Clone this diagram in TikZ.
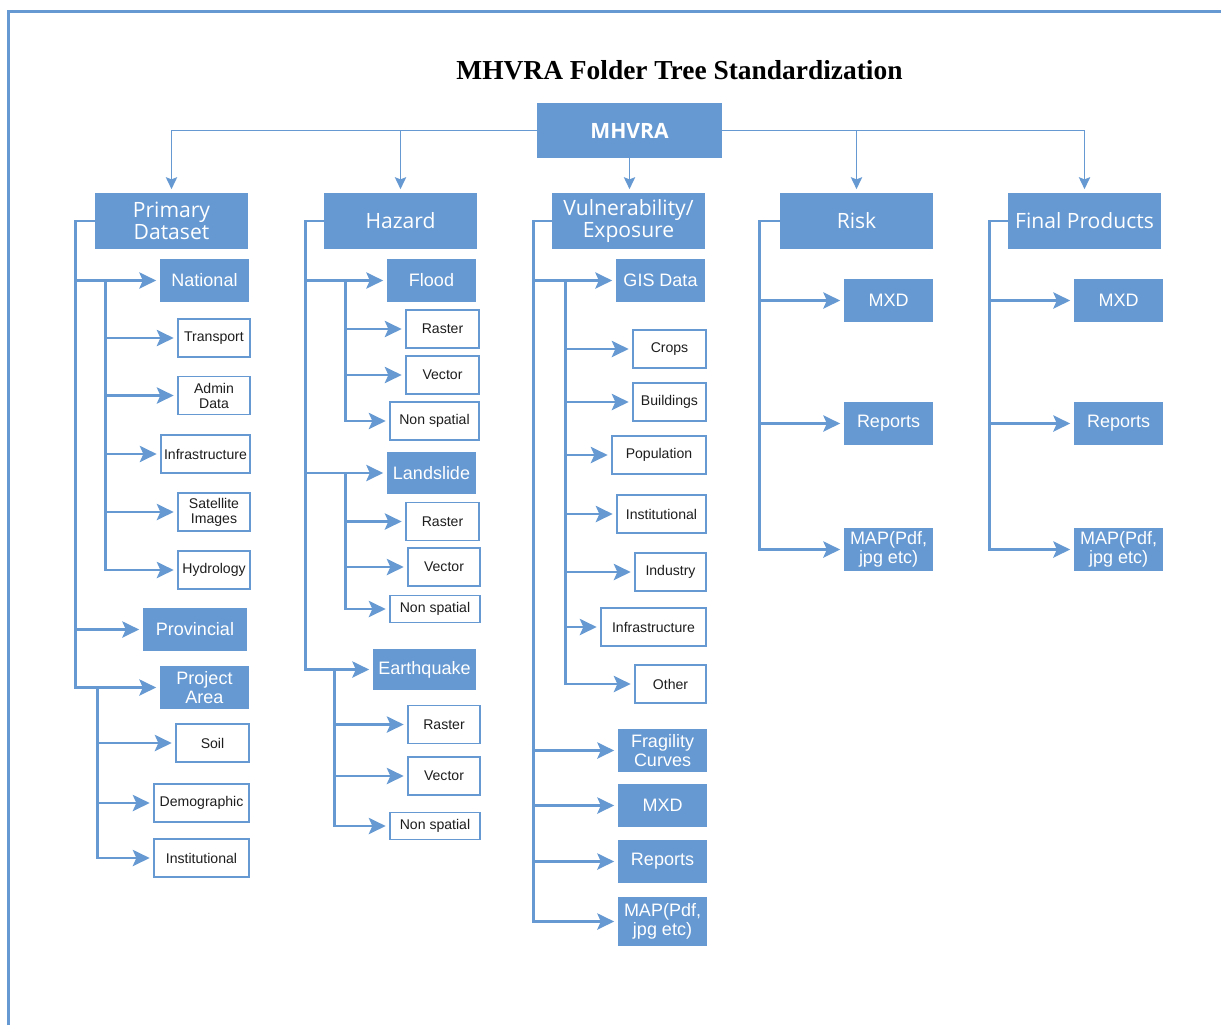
\documentclass[tikz,border=0pt]{standalone}
\usepackage{fontspec}
\usetikzlibrary{arrows.meta}
\newfontfamily\headfont{Open Sans}
\newfontfamily\boxfont{Liberation Sans}
\newfontfamily\titlefont{Liberation Serif}
\definecolor{folderblue}{RGB}{102,153,210}
\definecolor{leaftext}{RGB}{30,30,30}
\tikzset{
  linktip/.tip={Stealth[length=12pt,width=11.5pt,inset=2.5pt]},
  toptip/.tip={Stealth[length=8.5pt,width=8pt,inset=1.5pt]}
}

\begin{document}
\begin{tikzpicture}[x=0.025cm,y=-0.025cm]
        \tikzstyle{every node}=[inner sep=0pt, align=center]
        \tikzstyle{root}=[fill=folderblue, text=white, minimum width=4.625cm, minimum height=1.375cm, font=\headfont\bfseries\fontsize{15}{16}\selectfont]
        \tikzstyle{folder}=[fill=folderblue, text=white, minimum width=3.825cm, minimum height=1.4cm, font=\headfont\fontsize{15}{15.6}\selectfont]
        \tikzstyle{subfolder}=[fill=folderblue, text=white, minimum width=2.225cm, minimum height=1.075cm, font=\boxfont\fontsize{12.8}{13.5}\selectfont]
        \tikzstyle{leaf}=[draw=folderblue, line width=1.1pt, fill=white, text=leaftext, minimum width=1.825cm, minimum height=0.95cm, font=\boxfont\fontsize{10}{10.7}\selectfont]
        \tikzstyle{link}=[draw=folderblue, line width=1.9pt, -linktip, shorten >=2.5pt]
        \tikzstyle{toplink}=[draw=folderblue, line width=1.3pt, -toptip, shorten >=2.5pt]
        \useasboundingbox (0,0) rectangle (1221,1025);
        \draw[folderblue, line width=2pt] (8.5,1025) -- (8.5,11.5) -- (1221,11.5);

        \node[font=\titlefont\bfseries\fontsize{19.5}{21}\selectfont, anchor=base] (title) at (679.5,79) {MHVRA Folder Tree Standardization};

        % root and main folders
        \node[root] (mhvra) at (629.5,130.5) {MHVRA};
        \node[folder] (prim) at (171.5,221) {Primary\\Dataset};
        \node[folder] (haz) at (400.5,221) {Hazard};
        \node[folder] (vul) at (628.5,221) {Vulnerability/\\Exposure};
        \node[folder] (risk) at (856.5,221) {Risk};
        \node[folder] (final) at (1084.5,221) {Final Products};

        % primary dataset
        \node[subfolder] (nat) at (204.5,280.5) {National};
        \node[leaf, minimum width=1.8cm] (trans) at (214,338) {Transport};
        \node[leaf, minimum width=1.8cm] (admin) at (214,395.5) {Admin\\Data};
        \node[leaf, minimum width=2.225cm] (ninfra) at (205.5,454) {Infrastructure};
        \node[leaf, minimum width=1.8cm] (sat) at (214,512) {Satellite\\Images};
        \node[leaf, minimum width=1.8cm] (hydro) at (214,570) {Hydrology};
        \node[subfolder, minimum width=2.6cm] (prov) at (195,629.5) {Provincial};
        \node[subfolder] (proj) at (204.5,687.5) {Project\\Area};
        \node[leaf] (soil) at (212.5,743) {Soil};
        \node[leaf, minimum width=2.375cm] (demo) at (201.5,803) {Demographic};
        \node[leaf, minimum width=2.375cm] (pinst) at (201.5,858) {Institutional};

        % hazard
        \node[subfolder] (flood) at (431.5,280.5) {Flood};
        \node[leaf] (fras) at (442.5,329) {Raster};
        \node[leaf] (fvec) at (442.5,375) {Vector};
        \node[leaf, minimum width=2.225cm] (fnon) at (434.5,421) {Non spatial};
        \node[subfolder, minimum height=1.05cm] (land) at (431.5,473) {Landslide};
        \node[leaf] (lras) at (442.5,521.5) {Raster};
        \node[leaf, minimum width=1.8cm] (lvec) at (444,567) {Vector};
        \node[leaf, minimum width=2.25cm, minimum height=0.675cm] (lnon) at (435,609) {Non spatial};
        \node[subfolder, minimum width=2.575cm, minimum height=1.025cm] (quake) at (424.5,669.5) {Earthquake};
        \node[leaf, minimum width=1.8cm] (qras) at (444,724.5) {Raster};
        \node[leaf, minimum width=1.8cm] (qvec) at (444,776) {Vector};
        \node[leaf, minimum width=2.25cm, minimum height=0.675cm] (qnon) at (435,826) {Non spatial};

        % vulnerability / exposure
        \node[subfolder] (gis) at (660.5,280.5) {GIS Data};
        \node[leaf] (crops) at (669.5,349) {Crops};
        \node[leaf] (build) at (669.5,402) {Buildings};
        \node[leaf, minimum width=2.35cm] (pop) at (659,455) {Population};
        \node[leaf, minimum width=2.225cm] (vinst) at (661.5,514) {Institutional};
        \node[leaf, minimum width=1.775cm] (indus) at (670.5,572) {Industry};
        \node[leaf, minimum width=2.625cm] (vinfra) at (653.5,627) {Infrastructure};
        \node[leaf, minimum width=1.775cm] (other) at (670.5,684) {Other};
        \node[subfolder] (frag) at (662.5,750.5) {Fragility\\Curves};
        \node[subfolder] (vmxd) at (662.5,805.5) {MXD};
        \node[subfolder] (vrep) at (662.5,861.5) {Reports};
        \node[subfolder, minimum height=1.225cm] (vmap) at (662.5,921.5) {MAP(Pdf,\\jpg etc)};

        % risk and final products
        \node[subfolder] (rmxd) at (888.5,300.5) {MXD};
        \node[subfolder] (rrep) at (888.5,423.5) {Reports};
        \node[subfolder] (rmap) at (888.5,549.5) {MAP(Pdf,\\jpg etc)};
        \node[subfolder] (fmxd) at (1118.5,300.5) {MXD};
        \node[subfolder] (frep) at (1118.5,423.5) {Reports};
        \node[subfolder] (fmap) at (1118.5,549.5) {MAP(Pdf,\\jpg etc)};

        % connectors
        \draw[toplink] (mhvra.west) -| (prim.north);
        \draw[toplink] (mhvra.west) -| (haz.north);
        \draw[toplink] (mhvra.south) -- (mhvra.south |- vul.north);
        \draw[toplink] (mhvra.east) -| (risk.north);
        \draw[toplink] (mhvra.east) -| (final.north);

        \foreach \c in {nat,prov,proj} \draw[link] (prim.west) -- ++(-19,0) |- (\c.west);
        \foreach \c in {trans,admin,ninfra,sat,hydro} \draw[link] (nat.west) ++(-54,0) |- (\c.west);
        \foreach \c in {soil,demo,pinst} \draw[link] (proj.west) ++(-62,0) |- (\c.west);

        \foreach \c in {flood,land,quake} \draw[link] (haz.west) -- ++(-18,0) |- (\c.west);
        \foreach \c in {fras,fvec,fnon} \draw[link] (flood.west) ++(-41,0) |- (\c.west);
        \foreach \c in {lras,lvec,lnon} \draw[link] (land.west) ++(-41,0) |- (\c.west);
        \foreach \c in {qras,qvec,qnon} \draw[link] (quake.west) ++(-38,0) |- (\c.west);

        \foreach \c in {gis,frag,vmxd,vrep,vmap} \draw[link] (vul.west) -- ++(-18,0) |- (\c.west);
        \foreach \c in {crops,build,pop,vinst,indus,vinfra,other} \draw[link] (gis.west) ++(-50,0) |- (\c.west);

        \foreach \c in {rmxd,rrep,rmap} \draw[link] (risk.west) -- ++(-20,0) |- (\c.west);
        \foreach \c in {fmxd,frep,fmap} \draw[link] (final.west) -- ++(-18,0) |- (\c.west);
    \end{tikzpicture}
\end{document}
